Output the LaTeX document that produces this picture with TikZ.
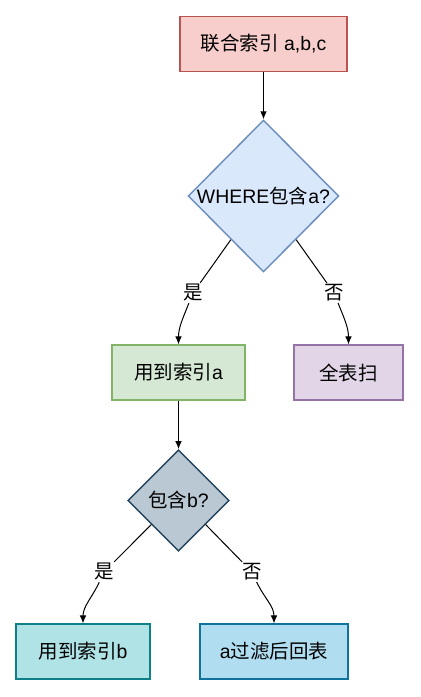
\documentclass[tikz,border=0pt]{standalone}
\usepackage{fontspec}
\usepackage{xcolor}
\setmainfont{Liberation Sans}
\newfontfamily\cjk{Noto Sans CJK SC}
\newcommand{\zh}[1]{{\cjk #1}}
\usetikzlibrary{shapes.geometric,arrows.meta,positioning,calc}

\definecolor{redfill}{HTML}{F8CECC}
\definecolor{redline}{HTML}{B85450}
\definecolor{bluefill}{HTML}{DAE8FC}
\definecolor{blueline}{HTML}{6C8EBF}
\definecolor{greenfill}{HTML}{D5E8D4}
\definecolor{greenline}{HTML}{82B366}
\definecolor{purplefill}{HTML}{E1D5E7}
\definecolor{purpleline}{HTML}{9673A6}
\definecolor{slatefill}{HTML}{BAC8D3}
\definecolor{slateline}{HTML}{23445D}
\definecolor{tealfill}{HTML}{B0E3E6}
\definecolor{tealline}{HTML}{0E8088}
\definecolor{skyfill}{HTML}{B1DDF0}
\definecolor{skyline}{HTML}{10739E}

\begin{document}
\begin{tikzpicture}[x=0.75pt,y=0.75pt,
		font=\fontsize{14.6}{17}\selectfont,
		box/.style={draw,line width=1.1pt,minimum height=41pt,inner sep=0pt},
		decision/.style={draw,diamond,line width=1.1pt,inner sep=0pt},
		lbl/.style={fill=white,inner sep=1pt},
		edge/.style={line width=0.75pt,-{Latex[length=6pt,width=5pt]}}]
		\useasboundingbox (0,0) rectangle (421,-697);
		\node[box,fill=redfill,draw=redline,minimum width=125pt] (idx) at (263.5,-44) {\zh{联合索引} a,b,c};
		\node[decision,fill=bluefill,draw=blueline,minimum width=113pt,minimum height=114pt] (wa) at (263.5,-196) {\makebox[0pt]{WHERE\zh{包含}a?}};
		\node[box,fill=greenfill,draw=greenline,minimum width=100pt] (ua) at (178.5,-372.5) {\zh{用到索引}a};
		\node[box,fill=purplefill,draw=purpleline,minimum width=82pt] (scan) at (348.5,-372.5) {\zh{全表扫}};
		\node[decision,fill=slatefill,draw=slateline,minimum width=76pt,minimum height=76pt] (hb) at (178.5,-500.5) {\makebox[0pt]{\zh{包含}b?}};
		\node[box,fill=tealfill,draw=tealline,minimum width=100.5pt] (ub) at (83,-651.5) {\zh{用到索引}b};
		\node[box,fill=skyfill,draw=skyline,minimum width=111pt] (back) at (274,-651.5) {a\zh{过滤后回表}};
		%
		\node[lbl] (y1) at (193,-293) {\zh{是}};
		\node[lbl] (n1) at (334,-293) {\zh{否}};
		\node[lbl] (y2) at (104,-572) {\zh{是}};
		\node[lbl] (n2) at (252,-572) {\zh{否}};
		\coordinate (s1) at ($(wa.west)!0.57!(wa.south)$);
		\coordinate (t1) at ($(wa.east)!0.57!(wa.south)$);
		\coordinate (s2) at ($(hb.west)!0.47!(hb.south)$);
		\coordinate (t2) at ($(hb.east)!0.47!(hb.south)$);
		%
		\draw[edge] (idx) -- (wa);
		\draw[edge] (s1) -- (y1) to[out=-112,in=90] (ua);
		\draw[edge] (t1) -- (n1) to[out=-68,in=90] (scan);
		\draw[edge] (ua) -- (hb);
		\draw[edge] (s2) -- (y2) to[out=-115,in=90] (ub);
		\draw[edge] (t2) -- (n2) to[out=-65,in=90] (back);
\end{tikzpicture}
\end{document}
